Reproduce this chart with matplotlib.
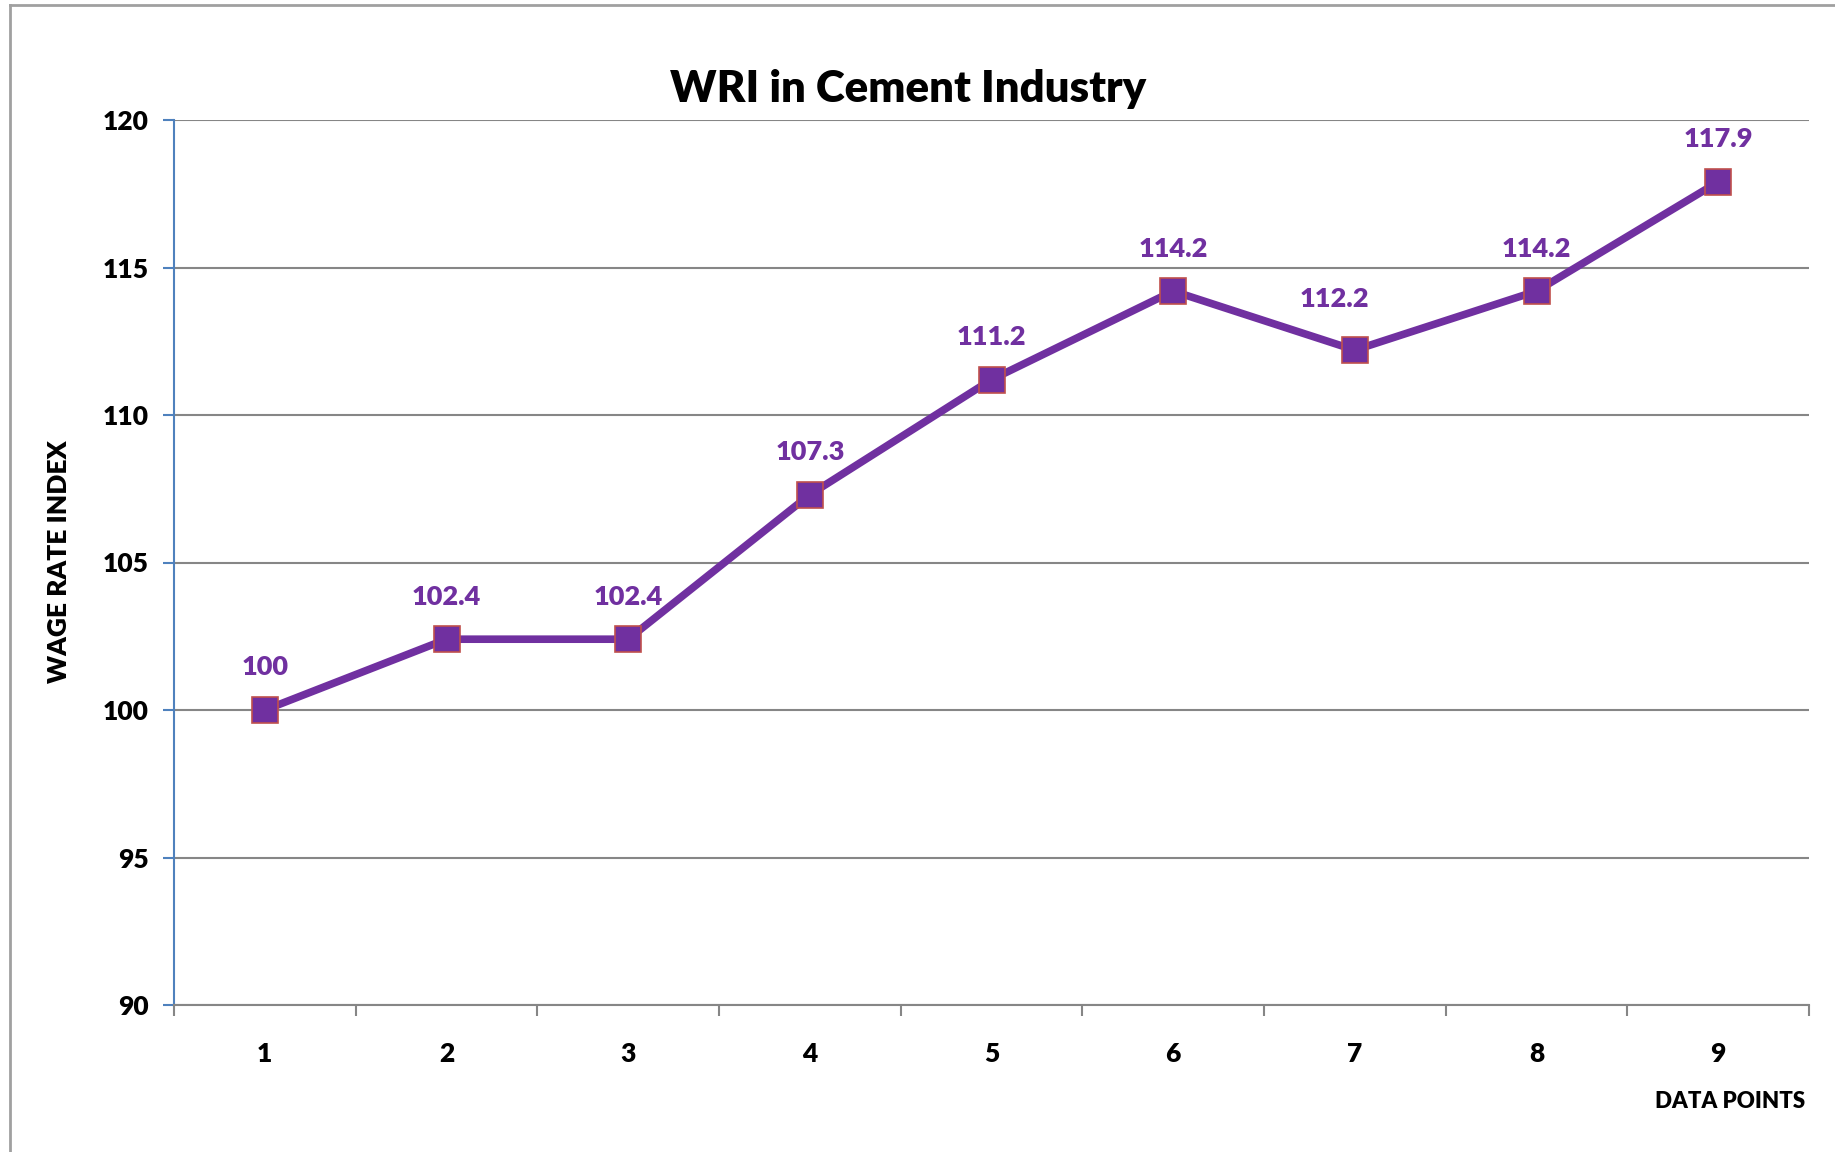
import matplotlib
matplotlib.use('Agg')
import matplotlib.pyplot as plt
from matplotlib.lines import Line2D

# WRI データ
points = [1, 2, 3, 4, 5, 6, 7, 8, 9]
wri = [100, 102.4, 102.4, 107.3, 111.2, 114.2, 112.2, 114.2, 117.9]
labels = ['100', '102.4', '102.4', '107.3', '111.2', '114.2', '112.2', '114.2', '117.9']
yticks = [90, 95, 100, 105, 110, 115, 120]

purple = '#7030A0'
W = 'heavy'
plt.rcParams['font.family'] = ['Lato', 'DejaVu Sans']
plt.rcParams['font.weight'] = W

fig = plt.figure(figsize=(18.35, 11.52), dpi=100)
ax = fig.add_axes([174/1835, 1-1005/1152, (1809-174)/1835, (1005-120)/1152])

ax.plot(points, wri, color=purple, lw=5.5, marker='s', ms=19,
        mfc=purple, mec='#C0504D', mew=1.2, zorder=3)
for x, y, t in zip(points, wri, labels):
    dx, dy = (-15, 28) if t == '112.2' else (0, 22)
    ax.annotate(t, (x, y), xytext=(dx, dy), textcoords='offset points',
                ha='center', va='bottom', color=purple, fontsize=19.5, fontweight=W)

ax.set_xlim(0.5, 9.5)
ax.set_ylim(90, 120)
ax.set_yticks(yticks)
ax.set_xticks([p - 0.5 for p in points] + [9.5])
ax.set_xticklabels([])
ax.set_xticks(points, minor=True)
ax.set_xticklabels([str(p) for p in points], minor=True)
ax.tick_params(axis='x', which='major', length=8, width=1.5, color='#868686', direction='out')
ax.tick_params(axis='x', which='minor', length=0, pad=27, labelsize=19)
ax.tick_params(axis='y', length=8, width=1.5, color='#4F81BD', pad=10, labelsize=19)
for lab in ax.get_xticklabels(minor=True) + ax.get_yticklabels():
    lab.set_fontweight(W)
ax.grid(axis='y', color='#868686', lw=1.5)
ax.set_axisbelow(True)
for s in ['top', 'right']:
    ax.spines[s].set_visible(False)
ax.spines['left'].set_color('#4F81BD')
ax.spines['left'].set_linewidth(1.5)
ax.spines['bottom'].set_color('#868686')
ax.spines['bottom'].set_linewidth(1.5)

fig.text(908/1835, 1-89/1152, 'WRI in Cement Industry', ha='center', va='center',
         fontsize=31.5, fontweight=W)
fig.text(59/1835, 1-562/1152, 'WAGE RATE INDEX', rotation=90, ha='center', va='center',
         fontsize=19, fontweight=W)
fig.text(1805/1835, 1-1102/1152, 'DATA POINTS', ha='right', va='center',
         fontsize=16, fontweight=W)

# 外枠
fig.add_artist(Line2D([10/1835, 10/1835], [0, 1-5/1152], color='#A0A0A0', lw=2))
fig.add_artist(Line2D([10/1835, 1], [1-5/1152, 1-5/1152], color='#A0A0A0', lw=2))

plt.savefig('out.png')
plt.close()
